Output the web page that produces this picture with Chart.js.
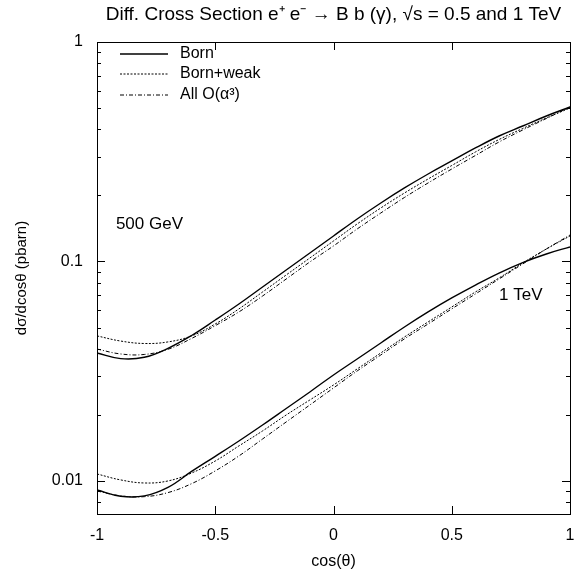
<!DOCTYPE html>
<html>
<head>
<meta charset="utf-8">
<script src="https://cdn.jsdelivr.net/npm/chart.js@4"></script>
<style>
  html, body { margin: 0; padding: 0; background: #fff; }
  #wrap { width: 584px; height: 580px; }
</style>
</head>
<body>
<div id="wrap"><canvas id="myChart" width="584" height="580"></canvas></div>
<script>
// cos(theta) sample points
const cosTheta = [-1, -0.9, -0.8, -0.7, -0.6, -0.5, -0.4, -0.3, -0.2, -0.1, 0, 0.1, 0.2, 0.3, 0.4, 0.5, 0.6, 0.7, 0.8, 0.9, 1];

// 500 GeV
const born500 = [0.0383, 0.0361, 0.0366, 0.0402, 0.0460, 0.0541, 0.0640, 0.0765, 0.0915, 0.1093, 0.1307, 0.1562, 0.1847, 0.2163, 0.2504, 0.2870, 0.3289, 0.3730, 0.4143, 0.4601, 0.5057];
const weak500 = [0.0458, 0.0434, 0.0423, 0.0430, 0.0458, 0.0519, 0.0608, 0.0726, 0.0868, 0.1037, 0.1240, 0.1482, 0.1753, 0.2051, 0.2376, 0.2737, 0.3154, 0.3595, 0.4036, 0.4506, 0.5004];
const all500 = [0.0399, 0.0379, 0.0377, 0.0398, 0.0446, 0.0510, 0.0589, 0.0696, 0.0832, 0.0995, 0.1177, 0.1406, 0.1663, 0.1957, 0.2279, 0.2638, 0.3040, 0.3503, 0.3972, 0.4482, 0.5057];

// 1 TeV
const born1000 = [0.00910, 0.00852, 0.00855, 0.00935, 0.01105, 0.01295, 0.01521, 0.01799, 0.02139, 0.02544, 0.03040, 0.03595, 0.04253, 0.05030, 0.0589, 0.0682, 0.0781, 0.0886, 0.0989, 0.1082, 0.1165];
const weak1000 = [0.01076, 0.01011, 0.00979, 0.01000, 0.01087, 0.01233, 0.01444, 0.01690, 0.01998, 0.02339, 0.02737, 0.03238, 0.0383, 0.04529, 0.05302, 0.06204, 0.0726, 0.0841, 0.0984, 0.1140, 0.1307];
const all1000 = [0.00900, 0.00855, 0.00848, 0.00885, 0.00972, 0.01111, 0.01300, 0.01553, 0.01857, 0.02219, 0.02652, 0.03170, 0.0375, 0.0444, 0.0519, 0.0608, 0.0711, 0.0832, 0.0974, 0.1140, 0.1320];

const xTicks = [-1, -0.5, 0, 0.5, 1];
const yLabels = [1, 0.1, 0.01];
const legendNames = ['Born', 'Born+weak', 'All O(\u03b1\u00b3)'];

const FONT = '"Liberation Sans", Arial, Helvetica, sans-serif';
const styles = [
  { borderWidth: 1.4, borderDash: [] },
  { borderWidth: 1, borderDash: [2, 1.5] },
  { borderWidth: 1, borderDash: [4, 2, 1, 2] }
];

function toPoints(values) {
  return cosTheta.map((c, i) => ({ x: c, y: values[i] }));
}

function makeSet(values, k) {
  return {
    label: legendNames[k],
    data: toPoints(values),
    borderColor: '#000',
    borderWidth: styles[k].borderWidth,
    borderDash: styles[k].borderDash,
    pointRadius: 0,
    fill: false,
    tension: 0.4
  };
}

// frame, inward ticks, legend and energy labels
const decorations = {
  id: 'decorations',
  afterDatasetsDraw(chart) {
    const { ctx, chartArea: a, scales } = chart;
    const xs = scales.x, ys = scales.y;
    ctx.save();
    ctx.strokeStyle = '#000';
    ctx.lineWidth = 1;
    ctx.setLineDash([]);
    ctx.strokeRect(a.left + 0.5, a.top + 0.5, a.right - a.left, a.bottom - a.top);

    ctx.beginPath();
    ys.ticks.forEach(t => {
      const v = t.value;
      const lg = Math.log10(v);
      const mant = v / Math.pow(10, Math.floor(lg + 1e-9));
      if (Math.abs(mant - Math.round(mant)) > 1e-6) return;
      const major = Math.abs(lg - Math.round(lg)) < 1e-6;
      const len = major ? 8 : 4;
      const y = Math.round(ys.getPixelForValue(v)) + 0.5;
      ctx.moveTo(a.left, y); ctx.lineTo(a.left + len, y);
      ctx.moveTo(a.right, y); ctx.lineTo(a.right - len, y);
    });
    xTicks.forEach(v => {
      const x = Math.round(xs.getPixelForValue(v)) + 0.5;
      ctx.moveTo(x, a.bottom); ctx.lineTo(x, a.bottom - 8);
      ctx.moveTo(x, a.top); ctx.lineTo(x, a.top + 8);
    });
    ctx.stroke();

    // legend
    ctx.font = '16px ' + FONT;
    ctx.fillStyle = '#000';
    ctx.textBaseline = 'middle';
    ctx.textAlign = 'left';
    const ly = [a.top + 12, a.top + 32, a.top + 53];
    for (let k = 0; k < 3; k++) {
      ctx.lineWidth = styles[k].borderWidth;
      ctx.setLineDash(styles[k].borderDash);
      ctx.beginPath();
      ctx.moveTo(a.left + 23, ly[k]);
      ctx.lineTo(a.left + 71, ly[k]);
      ctx.stroke();
      ctx.fillText(legendNames[k], a.left + 83, ly[k]);
    }
    ctx.setLineDash([]);

    ctx.font = '17px ' + FONT;
    ctx.fillText('500 GeV', xs.getPixelForValue(-0.92), ys.getPixelForValue(0.147));
    ctx.fillText('1 TeV', xs.getPixelForValue(0.70), ys.getPixelForValue(0.0704));
    ctx.restore();
  }
};

const ctx = document.getElementById('myChart').getContext('2d');
new Chart(ctx, {
  type: 'line',
  data: {
    datasets: [
      makeSet(born500, 0), makeSet(weak500, 1), makeSet(all500, 2),
      makeSet(born1000, 0), makeSet(weak1000, 1), makeSet(all1000, 2)
    ]
  },
  options: {
    responsive: false,
    animation: false,
    layout: { padding: { left: 0, right: 14, top: 0, bottom: 0 } },
    plugins: {
      legend: { display: false },
      tooltip: { enabled: false },
      title: {
        display: true,
        fullSize: false,
        text: 'Diff. Cross Section e\u207a e\u207b \u2192 B b (\u03b3), \u221as = 0.5 and 1 TeV',
        color: '#000',
        font: { family: FONT, size: 19, weight: 'normal', lineHeight: 1.2 },
        padding: { top: 3.5, bottom: 15.7 }
      }
    },
    scales: {
      x: {
        type: 'linear',
        min: -1,
        max: 1,
        grid: { display: false, drawTicks: false },
        border: { display: false },
        afterBuildTicks: scale => { scale.ticks = xTicks.map(v => ({ value: v })); },
        afterFit: scale => {
          scale.height = 66;
          scale.paddingLeft = 0;
          scale.paddingRight = 0;
        },
        ticks: {
          color: '#000',
          padding: 12,
          font: { family: FONT, size: 16 },
          maxRotation: 0,
          callback: v => String(v)
        },
        title: {
          display: true,
          text: 'cos(\u03b8)',
          color: '#000',
          font: { family: FONT, size: 16 },
          padding: { top: 0, bottom: 9 }
        }
      },
      y: {
        type: 'logarithmic',
        min: 0.00707,
        max: 1,
        grid: { display: false, drawTicks: false },
        border: { display: false },
        afterFit: scale => {
          scale.width = 97;
          scale.paddingTop = 0;
          scale.paddingBottom = 0;
        },
        ticks: {
          color: '#000',
          padding: 14,
          autoSkip: false,
          font: { family: FONT, size: 16 },
          callback: v => {
            const hit = yLabels.find(l => Math.abs(l - v) / l < 1e-6);
            return hit === undefined ? '' : String(hit);
          }
        },
        title: {
          display: true,
          text: 'd\u03c3/dcos\u03b8 (pbarn)',
          color: '#000',
          font: { family: FONT, size: 15 },
          padding: { top: 13, bottom: 0 }
        }
      }
    }
  },
  plugins: [decorations]
});
</script>
</body>
</html>
